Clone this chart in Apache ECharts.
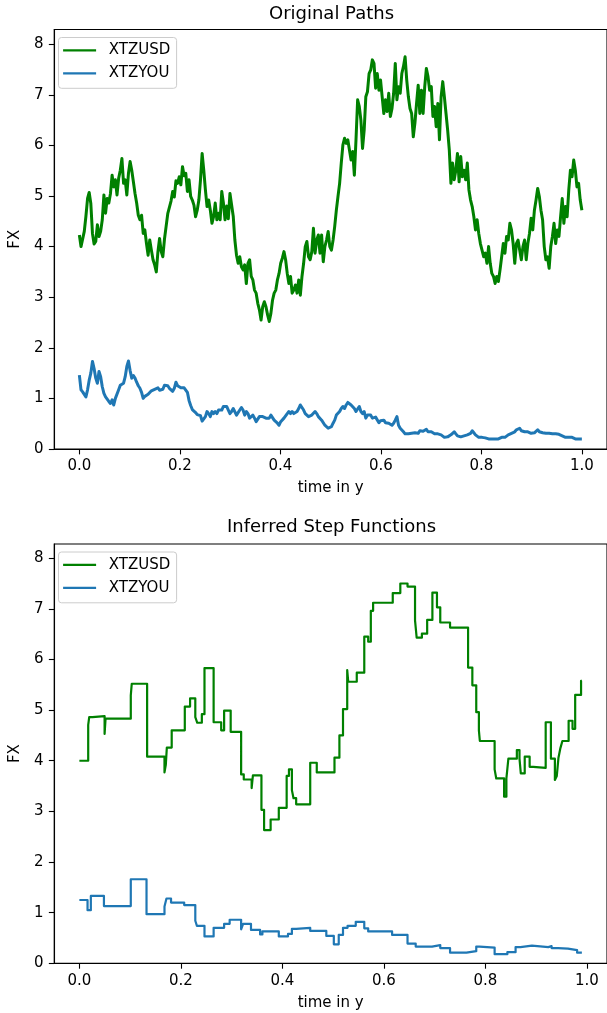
<!DOCTYPE html>
<html><head><meta charset="utf-8">
<script src="https://cdn.jsdelivr.net/npm/echarts@6.0.0/dist/echarts.min.js"></script>
<style>html,body{margin:0;padding:0;background:#fff;}#c{width:607px;height:1013px;}</style>
</head><body><div id="c"></div>
<script>
// ---------- data ----------
const seriesNames = ['XTZUSD', 'XTZYOU'];
const titles = ['Original Paths', 'Inferred Step Functions'];
const xTickValues = [0, 0.2, 0.4, 0.6, 0.8, 1.0];
const yTickValues = [0, 1, 2, 3, 4, 5, 6, 7, 8];
const xLabel = 'time in y';
const yLabel = 'FX';

const pathSteps = 307;
const pathUSD = [
  4.23, 4.00, 3.97, 4.30, 4.60, 4.95, 5.07, 4.85, 4.26, 4.05,
  4.10, 4.43, 4.20, 4.30, 4.53, 5.02, 4.66, 4.95, 4.86, 5.05,
  5.41, 5.18, 5.32, 5.02, 5.35, 5.51, 5.74, 5.25, 5.32, 5.02,
  5.45, 5.68, 5.51, 5.28, 5.05, 4.86, 4.62, 4.53, 4.62, 4.26,
  4.33, 4.06, 3.83, 4.13, 3.93, 3.74, 3.64, 3.50, 3.90, 4.16,
  3.90, 3.80, 4.15, 4.40, 4.65, 4.62, 4.90, 5.09, 4.98, 5.30,
  5.25, 5.38, 5.22, 5.58, 5.40, 5.45, 5.09, 5.32, 4.99, 4.92,
  4.82, 4.59, 4.72, 4.92, 5.32, 5.84, 5.51, 5.12, 4.79, 4.92,
  4.72, 4.46, 4.59, 4.86, 4.53, 4.66, 4.53, 5.09, 4.86, 4.53,
  4.80, 4.55, 5.05, 5.02, 4.60, 4.13, 3.83, 3.67, 3.80, 3.60,
  3.54, 3.64, 3.27, 3.67, 3.74, 3.41, 3.34, 3.14, 3.08, 2.88,
  2.75, 2.55, 2.81, 2.91, 2.81, 2.65, 2.52, 2.68, 2.94, 3.08,
  3.14, 3.34, 3.47, 3.67, 3.77, 3.90, 3.74, 3.47, 3.27, 3.41,
  3.08, 3.14, 3.24, 3.08, 3.34, 3.04, 3.41, 3.67, 4.00, 4.10,
  3.80, 3.74, 3.90, 4.36, 3.87, 4.13, 4.23, 3.87, 4.23, 3.70,
  4.00, 4.13, 4.30, 4.00, 3.93, 4.13, 4.40, 4.72, 4.99,
  5.25, 5.65, 6.01, 6.14, 6.04, 6.11, 5.91, 5.71, 5.88, 5.41,
  6.11, 6.90, 6.77, 6.50, 5.94, 6.30, 6.96, 7.06, 7.42, 7.49,
  7.69, 7.62, 7.13, 7.42, 7.09, 7.29, 6.96, 6.63, 6.90, 6.67,
  7.03, 6.57, 6.73, 7.03, 7.62, 6.90, 7.16, 7.03, 7.42, 7.56,
  7.75, 7.29, 6.96, 6.73, 6.63, 6.17, 6.44, 6.83, 7.19, 6.63,
  7.09, 6.63, 7.16, 7.52, 7.36, 7.09, 7.16, 6.57, 6.77, 6.37,
  6.83, 6.11, 6.96, 7.26, 6.96, 6.63, 6.30, 5.91, 5.25, 5.65,
  5.32, 5.51, 5.84, 5.28, 5.78, 5.38, 5.51, 5.32, 5.65, 5.12,
  4.92, 4.79, 4.59, 4.33, 4.53, 4.26, 4.06, 3.93, 3.80, 3.87,
  3.67, 4.00, 3.67, 3.47, 3.41, 3.27, 3.41, 3.31, 3.54, 3.80,
  4.06, 3.87, 4.20, 4.13, 4.46, 4.33, 4.06, 3.67, 4.06, 4.13,
  3.93, 3.74, 4.00, 4.13, 3.74, 4.06, 4.26, 4.56, 4.33, 4.72,
  4.92, 5.15, 4.99, 4.72, 4.53, 4.00, 3.74, 3.80, 3.57, 4.00,
  4.20, 4.46, 4.06, 4.33, 4.20, 4.59, 4.95, 4.46, 4.79, 4.59,
  5.12, 5.51, 5.38, 5.71, 5.51, 5.18, 5.25, 4.92, 4.72
];
const pathYOU = [
  1.46, 1.17, 1.13, 1.10, 1.03, 1.17, 1.36, 1.50, 1.73, 1.59,
  1.40, 1.30, 1.53, 1.43, 1.23, 1.10, 1.03, 1.00, 0.94, 0.90,
  0.97, 0.87, 1.00, 1.03, 1.17, 1.26, 1.23, 1.30, 1.43, 1.63,
  1.74, 1.55, 1.40, 1.45, 1.40, 1.32, 1.25, 1.20, 1.12, 1.00,
  1.04, 1.05, 1.08, 1.08, 1.15, 1.15, 1.18, 1.18, 1.21, 1.16,
  1.18, 1.18, 1.26, 1.25, 1.25, 1.20, 1.21, 1.14, 1.20, 1.32,
  1.25, 1.27, 1.21, 1.21, 1.21, 1.18, 1.12, 0.96, 0.86, 0.78,
  0.76, 0.72, 0.68, 0.69, 0.66, 0.55, 0.57, 0.64, 0.74, 0.70,
  0.64, 0.74, 0.70, 0.74, 0.70, 0.77, 0.74, 0.77, 0.84, 0.87,
  0.84, 0.77, 0.70, 0.74, 0.80, 0.77, 0.67, 0.70, 0.77, 0.82,
  0.77, 0.67, 0.74, 0.70, 0.61, 0.64, 0.67, 0.61, 0.54, 0.57,
  0.64, 0.67, 0.64, 0.67, 0.61, 0.64, 0.61, 0.67, 0.64, 0.57,
  0.54, 0.51, 0.47, 0.54, 0.57, 0.61, 0.64, 0.70, 0.74, 0.70,
  0.74, 0.70, 0.67, 0.74, 0.80, 0.87, 0.84, 0.77, 0.70, 0.67,
  0.64, 0.67, 0.67, 0.70, 0.74, 0.70, 0.64, 0.61, 0.57, 0.54,
  0.47, 0.44, 0.41, 0.41, 0.44, 0.51, 0.57, 0.67, 0.64,
  0.74, 0.80, 0.84, 0.80, 0.87, 0.92, 0.94, 0.87, 0.90, 0.80,
  0.74, 0.77, 0.84, 0.74, 0.70, 0.74, 0.61, 0.67, 0.64, 0.67,
  0.61, 0.64, 0.63, 0.61, 0.52, 0.56, 0.54, 0.57, 0.52, 0.54,
  0.51, 0.52, 0.47, 0.51, 0.57, 0.64, 0.47, 0.41, 0.38, 0.34,
  0.30, 0.31, 0.30, 0.32, 0.31, 0.34, 0.32, 0.34, 0.31, 0.36,
  0.34, 0.35, 0.32, 0.39, 0.34, 0.31, 0.34, 0.31, 0.30, 0.31,
  0.30, 0.31, 0.28, 0.26, 0.23, 0.21, 0.24, 0.26, 0.28, 0.31,
  0.34, 0.30, 0.26, 0.23, 0.24, 0.23, 0.26, 0.24, 0.28, 0.26,
  0.31, 0.36, 0.32, 0.28, 0.26, 0.23, 0.21, 0.23, 0.20, 0.22,
  0.19, 0.20, 0.19, 0.20, 0.19, 0.20, 0.18, 0.20, 0.19, 0.23,
  0.24, 0.23, 0.26, 0.28, 0.30, 0.31, 0.30, 0.34, 0.38, 0.39,
  0.41, 0.36, 0.39, 0.34, 0.31, 0.34, 0.32, 0.31, 0.34, 0.32,
  0.34, 0.38, 0.34, 0.31, 0.32, 0.30, 0.31, 0.30, 0.31, 0.32,
  0.30, 0.31, 0.30, 0.28, 0.29, 0.28, 0.26, 0.24, 0.23, 0.21,
  0.23, 0.21, 0.23, 0.22, 0.20, 0.22, 0.20, 0.21, 0.20
];

// inferred step functions: value held from each time until the next one
const stepTimesUSD = [0, 0.0174, 0.0194, 0.0258, 0.0497, 0.0516, 0.1013, 0.1032, 0.1335, 0.1677,
  0.1703, 0.1723, 0.1819, 0.2077, 0.2181, 0.2284, 0.2323, 0.2413, 0.2465, 0.2645,
  0.2794, 0.2852, 0.2981, 0.3187, 0.3239, 0.3394, 0.3419, 0.3587, 0.3639, 0.3768,
  0.3929, 0.4084, 0.4129, 0.4187, 0.4219, 0.4271, 0.4548, 0.4677, 0.5026, 0.5123,
  0.5194, 0.5277, 0.5297, 0.5465, 0.5613, 0.5690, 0.5742, 0.5787, 0.6174, 0.6323,
  0.6465, 0.6613, 0.6645, 0.6748, 0.6852, 0.6955, 0.7045, 0.7110, 0.7303, 0.7658,
  0.7742, 0.7819, 0.7871, 0.7890, 0.8181, 0.8213, 0.8368, 0.8413, 0.8452, 0.8619,
  0.8671, 0.8697, 0.8774, 0.8871, 0.8942, 0.9187, 0.9290, 0.9368, 0.9406, 0.9439,
  0.9477, 0.9516, 0.9639, 0.9716, 0.9768, 0.9884, 0.9900];
const stepValsUSD = [4.00, 4.71, 4.86, 4.88, 4.53, 4.83, 5.29, 5.52, 4.08, 3.77,
  3.92, 4.26, 4.60, 5.07, 5.23, 4.86, 4.75, 4.92, 5.83, 4.76,
  4.60, 4.99, 4.57, 3.73, 3.63, 3.46, 3.71, 3.03, 2.63, 2.84,
  3.07, 3.70, 3.83, 3.42, 3.26, 3.14, 3.96, 3.77, 4.06, 4.50,
  5.02, 5.79, 5.56, 5.74, 6.45, 6.35, 6.96, 7.12, 7.31, 7.50,
  7.44, 6.77, 6.43, 6.51, 6.78, 7.32, 7.03, 6.73, 6.63, 5.84,
  5.49, 4.96, 4.60, 4.39, 3.83, 3.65, 3.29, 3.65, 4.04, 4.21,
  4.04, 3.75, 4.08, 3.88, 3.86, 4.76, 4.04, 3.62, 3.70, 4.06,
  4.25, 4.39, 4.79, 4.63, 5.30, 5.58, 5.58];
const stepTimesYOU = [0, 0.0161, 0.0226, 0.0484, 0.1013, 0.1323, 0.1677, 0.1716, 0.1806, 0.2065,
  0.2284, 0.2316, 0.2465, 0.2645, 0.2852, 0.2961, 0.3187, 0.3226, 0.3381, 0.3561,
  0.3606, 0.3929, 0.4110, 0.4187, 0.4271, 0.4548, 0.4865, 0.5013, 0.5110, 0.5194,
  0.5284, 0.5445, 0.5613, 0.5690, 0.6161, 0.6465, 0.6626, 0.6948, 0.7110, 0.7303,
  0.7626, 0.7819, 0.7884, 0.8181, 0.8432, 0.8594, 0.8690, 0.8916, 0.9239, 0.9303,
  0.9432, 0.9626, 0.9806, 0.9900];
const stepValsYOU = [1.25, 1.05, 1.33, 1.13, 1.66, 0.97, 1.12, 1.28, 1.20, 1.15,
  0.84, 0.74, 0.53, 0.70, 0.78, 0.86, 0.67, 0.78, 0.66, 0.57,
  0.63, 0.53, 0.58, 0.68, 0.70, 0.64, 0.54, 0.375, 0.56, 0.70,
  0.74, 0.82, 0.69, 0.63, 0.56, 0.39, 0.33, 0.36, 0.30, 0.21,
  0.24, 0.33, 0.31, 0.18, 0.22, 0.32, 0.35, 0.32, 0.34, 0.30,
  0.29, 0.26, 0.21, 0.21];

// ---------- chart ----------
const FONT = 'DejaVu Sans';
const GREEN = '#008000', BLUE = '#1f77b4';
const pathTimes = pathUSD.map((_, i) => i / pathSteps);
const pairs = (ts, vs) => ts.map((t, i) => [t, vs[i]]);

function xAxisOpt(gridIndex, min, max) {
  return {
    type: 'value', gridIndex, min, max,
    name: xLabel, nameLocation: 'middle', nameGap: 32,
    nameTextStyle: { fontFamily: FONT, fontSize: 15, color: '#000' },
    axisLine: { show: true, onZero: false, lineStyle: { color: '#000', width: 1.1 } },
    axisTick: { show: true, length: 5.4, lineStyle: { color: '#000', width: 1.1 }, customValues: xTickValues },
    axisLabel: { show: true, margin: 10, fontFamily: FONT, fontSize: 15, color: '#000',
      customValues: xTickValues, formatter: v => v.toFixed(1) },
    splitLine: { show: false }
  };
}
function yAxisOpt(gridIndex, max) {
  return {
    type: 'value', gridIndex, min: 0, max,
    name: yLabel, nameLocation: 'middle', nameRotate: 90, nameGap: 27.5,
    nameTextStyle: { fontFamily: FONT, fontSize: 15, color: '#000' },
    axisLine: { show: true, onZero: false, lineStyle: { color: '#000', width: 1.1 } },
    axisTick: { show: true, length: 5.4, lineStyle: { color: '#000', width: 1.1 }, customValues: yTickValues },
    axisLabel: { show: true, margin: 10.8, fontFamily: FONT, fontSize: 15, color: '#000',
      customValues: yTickValues, formatter: v => String(Math.round(v)) },
    splitLine: { show: false }
  };
}
function legendOpt(top) {
  return {
    orient: 'vertical', left: 58.5, top,
    padding: [4.3, 6.3, 6.5, 4.6],
    icon: 'rect', itemWidth: 33, itemHeight: 2.3, itemGap: 6,
    backgroundColor: 'rgba(255,255,255,0.8)', borderColor: '#cccccc', borderWidth: 1, borderRadius: 3,
    textStyle: { fontFamily: FONT, fontSize: 15, color: '#000', lineHeight: 17, padding: [0, 0, 0, 7.7] },
    selectedMode: false,
    data: seriesNames
  };
}
function lineSeries(name, color, xi, data, width, step) {
  const s = {
    type: 'line', name, xAxisIndex: xi, yAxisIndex: xi, data,
    symbol: 'none', showSymbol: false, silent: true, animation: false,
    lineStyle: { color, width, join: 'round' }, itemStyle: { color }
  };
  if (step) s.step = 'end';
  return s;
}

const chart = echarts.init(document.getElementById('c'), null, { renderer: 'canvas', width: 607, height: 1013 });
chart.setOption({
  backgroundColor: '#fff',
  animation: false,
  title: [
    { text: titles[0], left: 331.5, top: 5.5, textAlign: 'center', padding: 0,
      textStyle: { fontFamily: FONT, fontSize: 18, fontWeight: 'normal', color: '#000' } },
    { text: titles[1], left: 331.5, top: 518, textAlign: 'center', padding: 0,
      textStyle: { fontFamily: FONT, fontSize: 18, fontWeight: 'normal', color: '#000' } }
  ],
  legend: [legendOpt(37.5), legendOpt(552)],
  grid: [
    { left: 50, top: 29.5, width: 562.9, height: 419.5, show: true, borderColor: '#000', borderWidth: 1.1, containLabel: false },
    { left: 50, top: 544, width: 562.7, height: 419.3, show: true, borderColor: '#000', borderWidth: 1.1, containLabel: false }
  ],
  xAxis: [xAxisOpt(0, -0.05, 1.05), xAxisOpt(1, -0.0495, 1.0395)],
  yAxis: [yAxisOpt(0, 8.29), yAxisOpt(1, 8.28)],
  series: [
    lineSeries(seriesNames[0], GREEN, 0, pairs(pathTimes, pathUSD), 3, false),
    lineSeries(seriesNames[1], BLUE, 0, pairs(pathTimes, pathYOU), 3, false),
    lineSeries(seriesNames[0], GREEN, 1, pairs(stepTimesUSD, stepValsUSD), 2.2, true),
    lineSeries(seriesNames[1], BLUE, 1, pairs(stepTimesYOU, stepValsYOU), 2.2, true)
  ]
});
</script></body></html>
